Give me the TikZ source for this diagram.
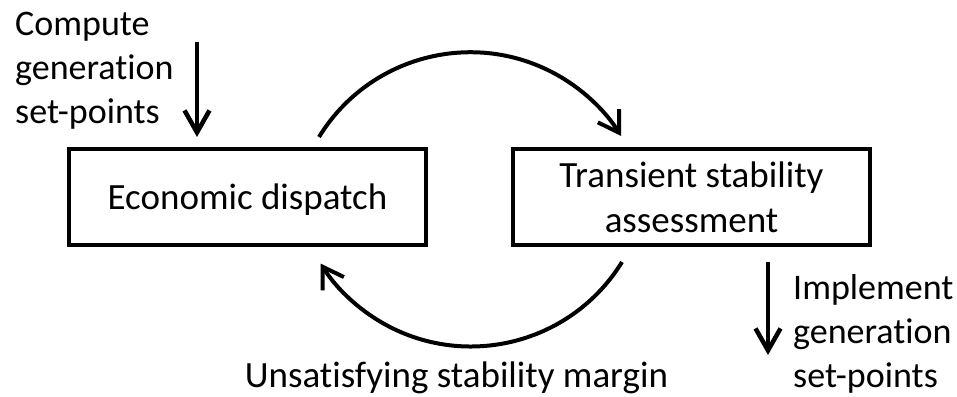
\documentclass[tikz,border=0pt]{standalone}
\usepackage{fontspec}
\setmainfont{Carlito}[Ligatures=NoCommon]
\usetikzlibrary{arrows.meta}
\begin{document}
\begin{tikzpicture}[x=1pt,y=-1pt,
  every node/.style={font=\fontsize{37}{44}\selectfont, inner sep=0pt},
  stage/.style={draw, line width=4pt, minimum width=357pt, minimum height=96pt,
    align=center, font=\fontsize{37}{45}\selectfont},
  lbl/.style={align=left, anchor=base west, font=\fontsize{36}{44}\selectfont},
  flow/.style={line width=4.5pt, -{Straight Barb[length=22pt,width=25pt]}},
  loop/.style={line width=4pt, -{Straight Barb[length=20pt,width=25pt]}}
]
\useasboundingbox (0,0) rectangle (957,396);

% the two stages
\node[stage, text depth=0pt] (ed) at (247.5,197) {Economic dispatch};
\node[stage] (tsa) at (691.5,197) {Transient stability\\assessment};

% input and output labels (placed by the baseline of their last line)
\node[lbl] (compute)   at (15,123)  {Compute\\generation\\set-points};
\node[lbl] (implement) at (793,387) {Implement\\generation\\set-points};
\node[anchor=base] (margin) at (456.5,387) {Unsatisfying stability margin};

% end points of the arrows
\coordinate (in-start)  at (197,42);
\coordinate (in-end)    at (197,137);
\coordinate (out-start) at (768,262);
\coordinate (out-end)   at (768,355);
\coordinate (ed-top)    at (319,137);
\coordinate (tsa-bot)   at (622,262);

\draw[flow] (in-start) -- (in-end);
\draw[flow] (out-start) -- (out-end);

% loop between the stages
\draw[loop] (ed-top) arc[start angle=211.5, end angle=328.1, radius=177.5];
\draw[loop] (tsa-bot) arc[start angle=31.6, end angle=147.8, radius=177.5];
\end{tikzpicture}
\end{document}
